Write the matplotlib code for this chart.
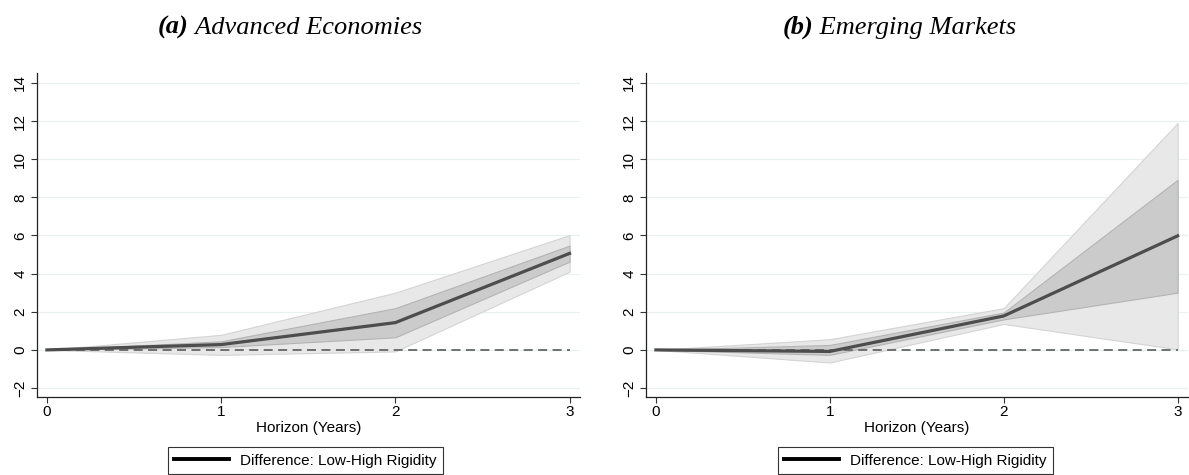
import matplotlib.pyplot as plt

horizon = [0, 1, 2, 3]

# Advanced economies
adv_est = [0.0, 0.28, 1.43, 5.06]
adv_in_lo = [0.0, 0.15, 0.66, 4.63]
adv_in_hi = [0.0, 0.45, 2.19, 5.47]
adv_out_lo = [0.0, -0.26, -0.08, 4.10]
adv_out_hi = [0.0, 0.79, 3.00, 6.02]

# Emerging markets
em_est = [0.0, -0.08, 1.78, 5.98]
em_in_lo = [0.0, -0.26, 1.60, 3.00]
em_in_hi = [0.0, 0.26, 1.96, 8.92]
em_out_lo = [0.0, -0.66, 1.36, 0.03]
em_out_hi = [0.0, 0.56, 2.19, 11.90]

yticks = [-2, 0, 2, 4, 6, 8, 10, 12, 14]
legend_label = "Difference: Low-High Rigidity"

plt.rcParams["font.family"] = ["Liberation Sans", "DejaVu Sans"]


def draw_panel(ax, est, in_lo, in_hi, out_lo, out_hi):
    ax.fill_between(horizon, out_lo, out_hi, facecolor="#e8e8e8",
                    edgecolor="#d4d4d4", linewidth=0.8, zorder=2)
    ax.fill_between(horizon, in_lo, in_hi, facecolor="#cbcbcb",
                    edgecolor="#b4b4b4", linewidth=0.8, zorder=3)
    ax.plot(horizon, [0] * len(horizon), color="#666666", linestyle=(0, (5, 3)),
            linewidth=1.3, zorder=4)
    ax.plot(horizon, est, color="#4d4d4d", linewidth=2.3, zorder=5)

    ax.set_yticks(yticks)
    ax.set_xticks(horizon)
    ax.set_ylim(-2.47, 14.52)
    ax.set_xlim(-0.057, 3.06)
    ax.grid(axis="y", color="#e8f0f0", linewidth=0.9, zorder=0)
    ax.set_axisbelow(True)
    for s in ["top", "right"]:
        ax.spines[s].set_visible(False)
    for s in ["left", "bottom"]:
        ax.spines[s].set_color("#222222")
        ax.spines[s].set_linewidth(0.9)
    ax.tick_params(axis="y", labelrotation=90, labelsize=11, length=4,
                   color="#333333", pad=3)
    ax.tick_params(axis="x", labelsize=11, length=4, color="#333333", pad=2)
    for lab in ax.get_yticklabels():
        lab.set_verticalalignment("center")
    ax.set_xlabel("Horizon (Years)", fontsize=11, labelpad=1)


fig = plt.figure(figsize=(11.89, 4.75), dpi=100)
ax1 = fig.add_axes([0.0311, 0.1642, 0.4567, 0.6821])
ax2 = fig.add_axes([0.5433, 0.1642, 0.4559, 0.6821])

draw_panel(ax1, adv_est, adv_in_lo, adv_in_hi, adv_out_lo, adv_out_hi)
draw_panel(ax2, em_est, em_in_lo, em_in_hi, em_out_lo, em_out_hi)

for cx in [0.257, 0.770]:
    handle = plt.Line2D([], [], color="black", linewidth=2.8)
    leg = fig.legend([handle], [legend_label], loc="center",
                     bbox_to_anchor=(cx, 0.0305), frameon=True, fancybox=False,
                     fontsize=11, handlelength=3.6, borderpad=0.4,
                     handletextpad=0.7, borderaxespad=0)
    leg.get_frame().set_edgecolor("black")
    leg.get_frame().set_linewidth(0.8)


def panel_title(x, tag, name):
    t = fig.text(x, 0.929, tag, fontsize=19, fontstyle="italic",
                 fontweight="bold", family="Liberation Serif", va="baseline")
    fig.canvas.draw()
    bb = t.get_window_extent()
    x2 = bb.x1 / fig.bbox.width
    fig.text(x2, 0.929, " " + name, fontsize=19, fontstyle="italic",
             family="Liberation Serif", va="baseline")


panel_title(0.133, "(a)", "Advanced Economies")
panel_title(0.658, "(b)", "Emerging Markets")

fig.savefig("out.png", dpi=100)
